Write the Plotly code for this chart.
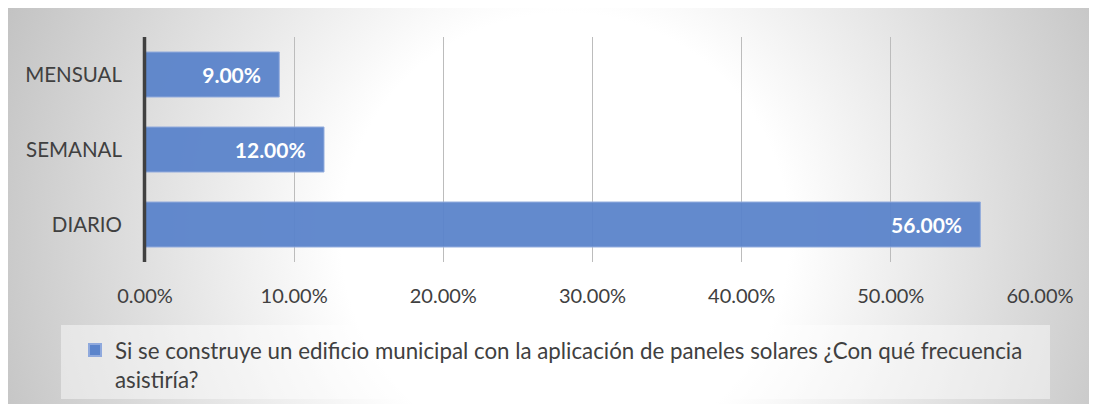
import base64
import plotly.graph_objects as go

categories = ["DIARIO", "SEMANAL", "MENSUAL"]
values = [56.0, 12.0, 9.0]
series_name = ("Si se construye un edificio municipal con la aplicación de paneles solares "
               "¿Con qué frecuencia<br>asistiría?")
tick_vals = [0, 10, 20, 30, 40, 50, 60]
tick_text = ["0.00%", "10.00%", "20.00%", "30.00%", "40.00%", "50.00%", "60.00%"]

FONT = "Lato"
BLUE = "#5b84cb"

# the page body adds an 8px margin; target pixel coords are shifted by it
OFF = 8
W, H = 1097 - OFF, 412 - OFF
L, R, T, B = 145 - OFF, 1040 - OFF, 37 - OFF, 262 - OFF
pw, ph = R - L, B - T

def px(x):
    return (x - OFF - L) / pw

def py(y):
    return (B - (y - OFF)) / ph

FX0, FX1, FY0, FY1 = 5, 1110, 7, 404
fw, fh = FX1 - FX0, FY1 - FY0
svg = f"""<svg xmlns='http://www.w3.org/2000/svg' width='{fw}' height='{fh}' preserveAspectRatio='none'>
<defs><radialGradient id='g' gradientUnits='userSpaceOnUse' cx='560' cy='230' r='640'>
<stop offset='0%' stop-color='#ffffff'/>
<stop offset='35%' stop-color='#ffffff'/>
<stop offset='100%' stop-color='#bdbdbd'/>
</radialGradient></defs>
<rect width='{fw}' height='{fh}' fill='url(#g)'/></svg>"""
src = "data:image/svg+xml;base64," + base64.b64encode(svg.encode()).decode()

fig = go.Figure()
fig.add_trace(go.Bar(
    y=categories, x=values, orientation="h", name=series_name,
    marker=dict(color=BLUE, opacity=0.95, line=dict(color="#8fa9dd", width=1)),
    width=0.6,
    texttemplate="%{x:.2f}%\u00a0\u00a0\u00a0", textposition="inside", insidetextanchor="end",
    textfont=dict(family=FONT, size=21, color="white", weight="bold"),
    showlegend=True,
))

fig.update_layout(
    width=W, height=H,
    margin=dict(l=L, r=W - R, t=T, b=H - B, pad=0),
    paper_bgcolor="white", plot_bgcolor="rgba(0,0,0,0)",
    font=dict(family=FONT, size=20, color="#404040"),
    xaxis=dict(range=[0, 60], tickvals=tick_vals, ticktext=tick_text,
               showgrid=True, gridcolor="#bcbcbc", gridwidth=1, zeroline=False,
               showline=False, ticks="", ticklabelstandoff=20,
               tickfont=dict(family=FONT, size=20, color="#404040")),
    yaxis=dict(showgrid=False, zeroline=False, showline=False, ticks="",
               ticklabelstandoff=22,
               tickfont=dict(family=FONT, size=20.5, color="#404040")),
    legend=dict(x=px(75), y=py(329), xanchor="left", yanchor="top", valign="top",
                bgcolor="rgba(0,0,0,0)", font=dict(family=FONT, size=22.3, color="#404040"),
                itemsizing="constant", tracegroupgap=0),
    images=[dict(source=src, xref="paper", yref="paper",
                 x=px(FX0), y=py(FY0), sizex=px(FX1) - px(FX0), sizey=py(FY0) - py(FY1),
                 xanchor="left", yanchor="top", sizing="stretch", layer="below")],
    shapes=[
        dict(type="line", xref="paper", yref="paper", x0=px(FX0), x1=px(FX1), y0=py(FY0), y1=py(FY0),
             line=dict(color="#c8c8c8", width=2), layer="below"),
        dict(type="rect", xref="paper", yref="paper", x0=px(61), x1=px(1050), y0=py(399), y1=py(325),
             line=dict(width=0), fillcolor="rgba(255,255,255,0.45)", layer="below"),
        dict(type="line", xref="paper", yref="paper", x0=px(144.5), x1=px(144.5), y0=0, y1=1,
             line=dict(color="#404040", width=3.5), layer="above"),
    ],
)

fig.write_html("out.html")
